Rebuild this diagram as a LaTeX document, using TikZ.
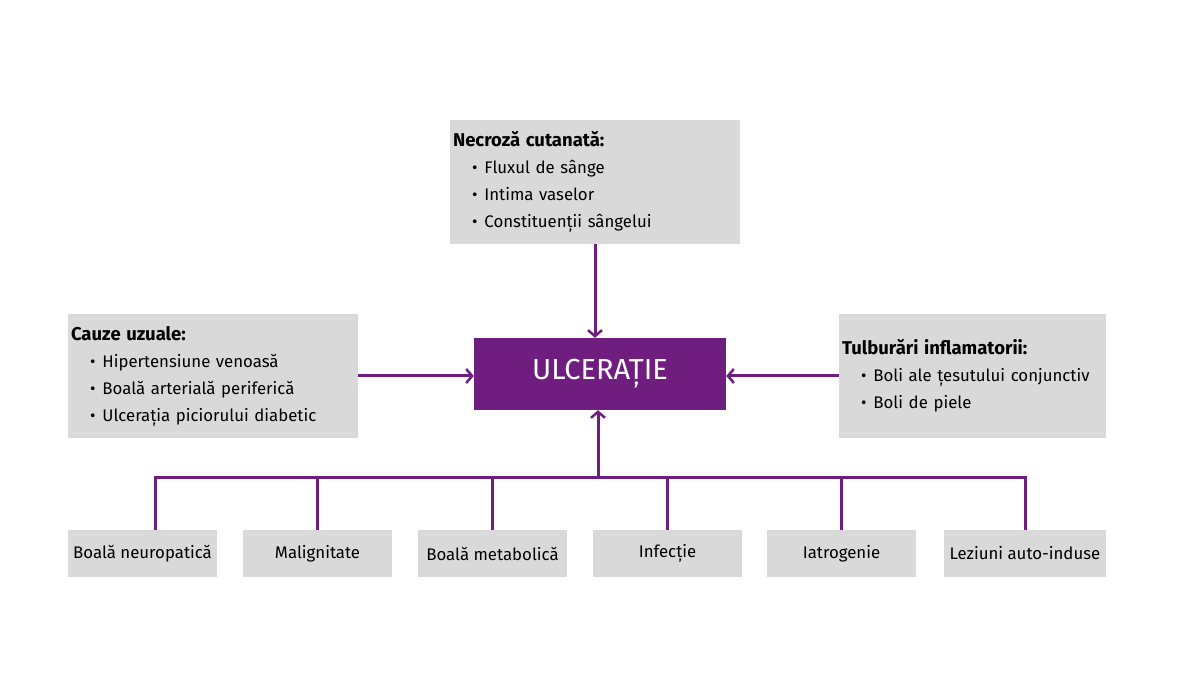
\documentclass[tikz,border=0pt]{standalone}
\usepackage{fontspec}
\setmainfont{Fira Sans}
\usetikzlibrary{arrows.meta}
\definecolor{boxgray}{HTML}{D9D9D9}
\definecolor{ulcpurple}{HTML}{6F1D7F}
\newcommand{\itm}[1]{\hspace*{19pt}\textbullet\hspace{7pt}#1}
\newcommand{\hdg}[1]{{\fontsize{18.5}{27}\selectfont\bfseries #1}}
\begin{document}
\begin{tikzpicture}[x=1pt, y=-1pt,
  every node/.style = {inner sep=0pt, font=\fontsize{16.8}{27}\selectfont},
  catbox/.style = {fill=boxgray, align=left, inner xsep=3pt},
  leafbox/.style = {fill=boxgray, minimum height=47pt, minimum width=149pt, align=center},
  link/.style = {ulcpurple, line width=3pt, -{Straight Barb[length=6pt,width=14pt,line width=2.5pt]}},
  bar/.style = {ulcpurple, line width=3pt}]
  \useasboundingbox (0,0) rectangle (1200,676);
  \node[fill=ulcpurple, text=white, minimum width=252pt, minimum height=72pt,
    font=\fontsize{29}{32}\selectfont] (ulc) at (600,374) {ULCERAȚIE};
  \node[catbox, minimum width=290pt, minimum height=124pt, text width=284pt] (necro) at (595,182)
    {\hdg{Necroză cutanată:}\\ \itm{Fluxul de sânge}\\ \itm{Intima vaselor}\\ \itm{Constituenții sângelui}};
  \node[catbox, minimum width=290pt, minimum height=124pt, text width=284pt] (cauze) at (213,376)
    {\hdg{Cauze uzuale:}\\ \itm{Hipertensiune venoasă}\\ \itm{Boală arterială periferică}\\ \itm{Ulcerația piciorului diabetic}};
  \node[catbox, minimum width=267pt, minimum height=124pt, text width=261pt] (tulb) at (972.5,376)
    {\hdg{Tulburări inflamatorii:}\\ \itm{Boli ale țesutului conjunctiv}\\ \itm{Boli de piele}};
  \node[leafbox] (neuro) at (142.5,553.5) {Boală neuropatică};
  \node[leafbox] (malig) at (317.5,553.5) {Malignitate};
  \node[leafbox] (metab) at (492.5,553.5) {Boală metabolică};
  \node[leafbox] (infec) at (667.5,553.5) {Infecție};
  \node[leafbox] (iatro) at (841.5,553.5) {Iatrogenie};
  \node[leafbox, minimum width=162pt] (lezi) at (1025,553.5) {Leziuni auto-induse};
  \coordinate (bus) at (598,477);
  \coordinate (neurotop) at (155,530);
  % arrows into the centre
  \draw[link] (necro.south) -- (necro.south |- ulc.north);
  \draw[link] (cauze.east) -- (cauze.east -| ulc.west);
  \draw[link] (tulb.west) -- (tulb.west -| ulc.east);
  \draw[link] (bus) -- (bus |- ulc.south);
  % bus to the bottom boxes
  \draw[bar] (neurotop) |- (bus) -| (lezi.north);
  \foreach \n in {malig, metab, infec, iatro}
    \draw[bar] (\n.north) -- (\n.north |- bus);
\end{tikzpicture}
\end{document}
